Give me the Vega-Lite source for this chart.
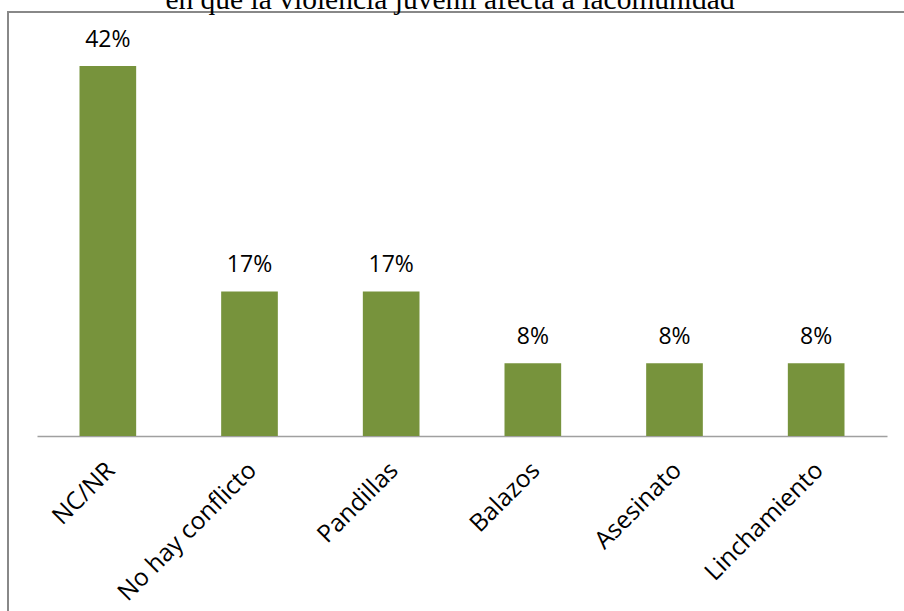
{
  "$schema": "https://vega.github.io/schema/vega-lite/v6.json",
  "autosize": {"type": "none"},
  "padding": {"left": 8, "top": 12, "right": 0, "bottom": 0},
  "width": 900,
  "height": 605,
  "background": "white",
  "title": {
    "text": "en que la violencia juvenil afecta a lacomunidad",
    "font": "Liberation Serif",
    "fontSize": 29.5,
    "fontWeight": "normal",
    "color": "#000000",
    "anchor": "middle",
    "baseline": "alphabetic",
    "offset": 3.5,
    "dx": -8,
    "dy": 30
  },
  "config": {
    "view": {"stroke": "#888888", "strokeWidth": 2}
  },
  "data": {
    "values": [
      {"categoria": "NC/NR", "valor": 0.417, "etiqueta": "42%"},
      {"categoria": "No hay conflicto", "valor": 0.163, "etiqueta": "17%"},
      {"categoria": "Pandillas", "valor": 0.163, "etiqueta": "17%"},
      {"categoria": "Balazos", "valor": 0.082, "etiqueta": "8%"},
      {"categoria": "Asesinato", "valor": 0.082, "etiqueta": "8%"},
      {"categoria": "Linchamiento", "valor": 0.082, "etiqueta": "8%"}
    ]
  },
  "encoding": {
    "x": {
      "field": "categoria",
      "type": "nominal",
      "sort": null,
      "scale": {"range": [29, 879], "paddingInner": 0.6, "paddingOuter": 0.3},
      "axis": {
        "title": null,
        "orient": "bottom",
        "offset": -181,
        "ticks": false,
        "grid": false,
        "domainColor": "#a0a0a0",
        "domainWidth": 1.5,
        "labelAngle": -45,
        "labelAlign": "right",
        "labelBaseline": "top",
        "labelPadding": 22,
        "labelOffset": -5,
        "labelFont": "Open Sans",
        "labelFontSize": 24.5,
        "labelColor": "#000000",
        "labelLimit": 400,
        "labelOverlap": false
      }
    },
    "y": {
      "field": "valor",
      "type": "quantitative",
      "scale": {"domain": [0, 0.4779], "range": [424, 0], "nice": false, "zero": true},
      "axis": null
    }
  },
  "layer": [
    {"mark": {"type": "bar", "color": "#77933C"}},
    {
      "mark": {
        "type": "text",
        "font": "Open Sans",
        "fontSize": 23,
        "color": "#000000",
        "baseline": "alphabetic",
        "align": "center",
        "dy": -19
      },
      "encoding": {"text": {"field": "etiqueta"}}
    }
  ]
}
